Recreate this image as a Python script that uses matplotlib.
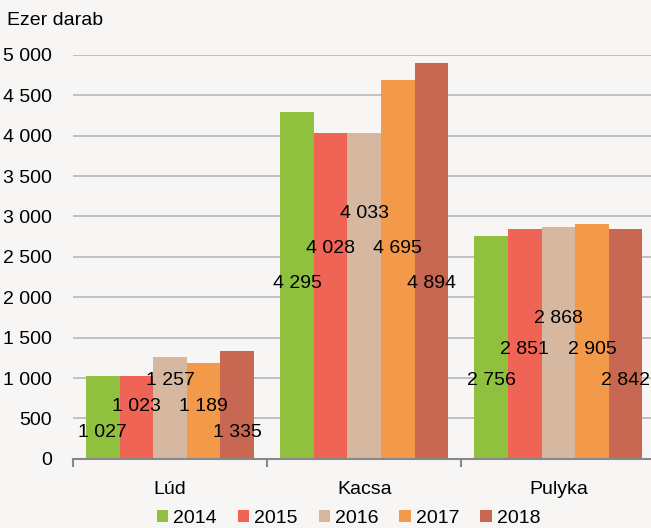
import matplotlib.pyplot as plt
import numpy as np
from matplotlib.ticker import FixedLocator, FuncFormatter

plt.rcParams['font.family'] = ['Liberation Sans', 'DejaVu Sans']

categories = ["Lúd", "Kacsa", "Pulyka"]
years = ["2014", "2015", "2016", "2017", "2018"]
values = {
    "2014": [1027, 4295, 2756],
    "2015": [1023, 4028, 2851],
    "2016": [1257, 4033, 2868],
    "2017": [1189, 4695, 2905],
    "2018": [1335, 4894, 2842],
}
colors = ["#8fc13f", "#ef6454", "#d6b8a0", "#f3994a", "#c86852"]

# where the value labels start for each group (data units), then staggered upwards
label_base = [320, 2170, 970]
label_step = [26, 35, 31]   # pixels
stagger = [0, 1, 2, 1, 0]
FS = 14


def fmt(v):
    return f"{int(v):,}".replace(",", " ")


fig = plt.figure(figsize=(6.51, 5.28), dpi=100)
fig.patch.set_facecolor("#f7f6f4")
ax = fig.add_axes([0.112, 0.131, 0.895, 0.765])
ax.set_facecolor("#f7f6f4")

x = np.arange(len(categories))
width = 0.173
for i, yr in enumerate(years):
    pos = x + (i - 2) * width
    ax.bar(pos, values[yr], width, color=colors[i], label=yr, zorder=2)
    for j, v in enumerate(values[yr]):
        ax.annotate(fmt(v), (pos[j], label_base[j]), xytext=(0, label_step[j] * stagger[i]),
                    textcoords="offset pixels", ha="center", va="center",
                    fontsize=FS, color="black", zorder=3)

ax.set_xlim(-0.5, 2.5)
ax.set_ylim(0, 5000)
ax.set_yticks(np.arange(0, 5001, 500))
ax.yaxis.set_major_formatter(FuncFormatter(lambda v, p: fmt(v)))
ax.grid(axis="y", color="#b8b8b8", linewidth=1.2, zorder=0)
ax.tick_params(axis="y", length=0, pad=15, labelsize=FS)

ax.set_xticks(x)
ax.set_xticklabels(categories, fontsize=FS)
ax.xaxis.set_minor_locator(FixedLocator([-0.5, 0.5, 1.5, 2.5]))
ax.tick_params(axis="x", which="major", length=0, pad=16)
ax.tick_params(axis="x", which="minor", length=6, color="#888888", width=1.5, direction="out")

for s in ["left", "right", "top"]:
    ax.spines[s].set_visible(False)
ax.spines["bottom"].set_color("#888888")
ax.spines["bottom"].set_linewidth(1.5)

fig.text(0.011, 0.962, "Ezer darab", fontsize=FS, va="center", ha="left")

ax.legend(loc="center", bbox_to_anchor=(0.473, -0.148), ncol=5, frameon=False,
          fontsize=FS, handlelength=0.6, handleheight=0.6, handletextpad=0.25,
          columnspacing=1.07, borderaxespad=0)

fig.savefig("out.png", dpi=100, facecolor=fig.get_facecolor())
